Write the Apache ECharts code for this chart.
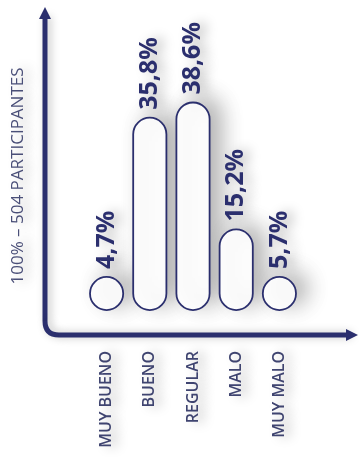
<!DOCTYPE html>
<html>
<head>
<meta charset="utf-8">
<style>
  html, body { margin: 0; padding: 0; background: #ffffff; }
  #chart { width: 359px; height: 457px; }
</style>
<script src="https://cdn.jsdelivr.net/npm/echarts@6/dist/echarts.min.js"></script>
</head>
<body>
<div id="chart"></div>
<script>
// Survey rating categories and share of participants (%)
const categories = ['MUY BUENO', 'BUENO', 'REGULAR', 'MALO', 'MUY MALO'];
const shares = [4.7, 35.8, 38.6, 15.2, 5.7];
const axisTitle = '100% \u2013 504 PARTICIPANTES';

const NAVY = '#2b2f6e';
const TEXT_GREY = '#3f4470';

const chart = echarts.init(document.getElementById('chart'), null, { renderer: 'canvas' });

// Percentages use a decimal comma
const fmt = v => v.toFixed(1).replace('.', ',') + '%';

const frameStyle = {
  stroke: NAVY,
  lineWidth: 5,
  fill: null,
  shadowColor: 'rgba(0,0,0,0.25)',
  shadowBlur: 8,
  shadowOffsetX: 3
};

chart.setOption({
  animation: false,
  backgroundColor: '#ffffff',
  grid: { left: 85, width: 216, top: 94, bottom: 146 },
  xAxis: {
    type: 'category',
    data: categories,
    axisLine: { show: false },
    axisTick: { show: false },
    axisLabel: {
      rotate: 90,
      margin: 40,
      color: TEXT_GREY,
      fontFamily: 'Open Sans',
      fontWeight: 600,
      fontSize: 16,
      textShadowColor: 'rgba(0,0,0,0.28)',
      textShadowBlur: 12,
      textShadowOffsetX: 7
    }
  },
  yAxis: {
    type: 'value',
    min: 0,
    max: 40,
    show: false
  },
  series: [{
    type: 'bar',
    data: shares,
    barWidth: 35,
    barMinHeight: 35,
    itemStyle: {
      color: '#ffffff',
      borderColor: NAVY,
      borderWidth: 1.8,
      borderRadius: 18,
      shadowColor: 'rgba(0,0,0,0.3)',
      shadowBlur: 22,
      shadowOffsetX: 11,
      shadowOffsetY: -5
    },
    label: {
      show: true,
      position: 'top',
      rotate: 90,
      align: 'left',
      verticalAlign: 'middle',
      distance: 7,
      formatter: p => fmt(p.value),
      color: NAVY,
      fontFamily: 'Open Sans',
      fontWeight: 'bold',
      fontSize: 25,
      textShadowColor: 'rgba(0,0,0,0.28)',
      textShadowBlur: 12,
      textShadowOffsetX: 7
    }
  }],
  graphic: [
    // L-shaped axis frame with rounded corner and arrow heads
    { type: 'line', shape: { x1: 45, y1: 16, x2: 45, y2: 321 }, style: frameStyle, z: 10 },
    {
      type: 'bezierCurve',
      shape: { x1: 45, y1: 321, cpx1: 45, cpy1: 335, x2: 59, y2: 335 },
      style: frameStyle,
      z: 10
    },
    { type: 'line', shape: { x1: 59, y1: 335, x2: 349, y2: 335 }, style: frameStyle, z: 10 },
    {
      type: 'polygon',
      shape: { points: [[45, 7], [39, 19], [51, 19]] },
      style: { fill: NAVY },
      z: 10
    },
    {
      type: 'polygon',
      shape: { points: [[358, 335], [346, 329], [346, 341]] },
      style: { fill: NAVY },
      z: 10
    },
    {
      type: 'text',
      x: 18,
      y: 176,
      rotation: Math.PI / 2,
      style: {
        text: axisTitle,
        fill: '#4a4f78',
        font: '500 17px "Open Sans"',
        align: 'center',
        verticalAlign: 'middle',
        textShadowColor: 'rgba(0,0,0,0.28)',
        textShadowBlur: 12,
        textShadowOffsetX: 7
      },
      z: 10
    }
  ]
});
</script>
</body>
</html>
